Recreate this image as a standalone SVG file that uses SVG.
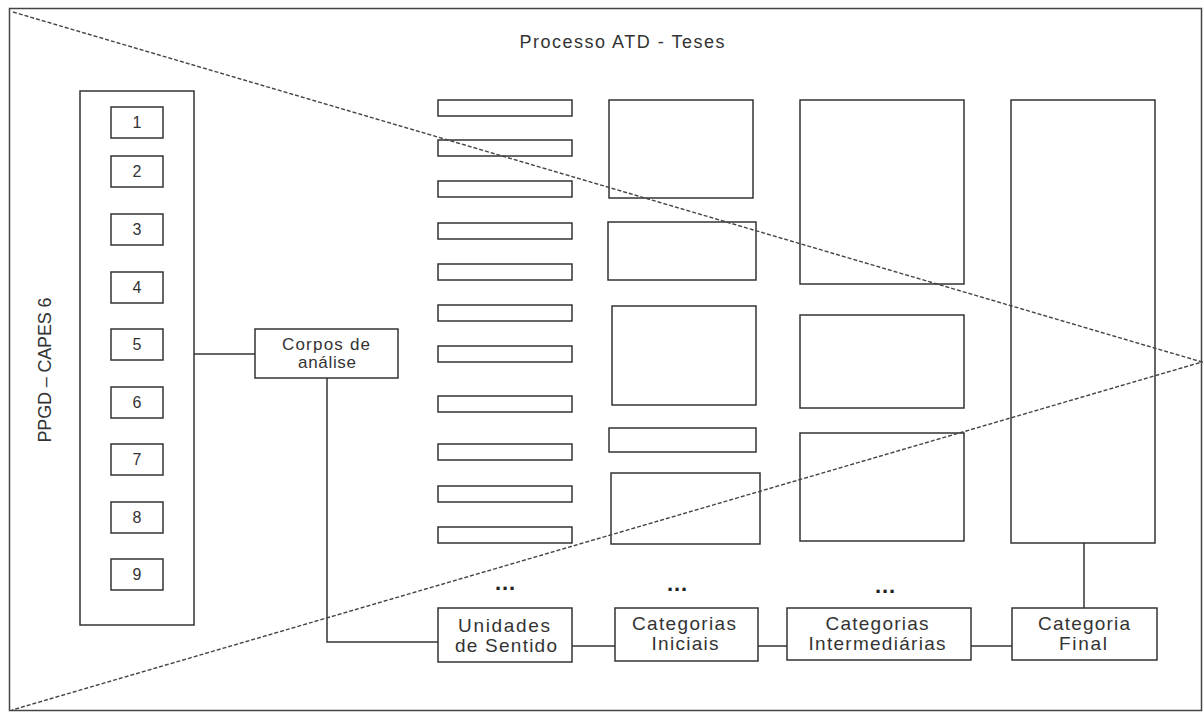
<svg xmlns="http://www.w3.org/2000/svg" width="1203" height="713" viewBox="0 0 1203 713">
<style>
.b{fill:#fff;stroke:#333;stroke-width:1.5}
.c{fill:none;stroke:#333;stroke-width:1.5}
.d{fill:none;stroke:#444;stroke-width:1.4;stroke-dasharray:4 2}
.t{font-family:"Liberation Sans",Arial,sans-serif;fill:#333;text-anchor:middle}
.n{font-size:16px}
.l{font-size:19px}
.e{font-size:22px;font-weight:bold;fill:#222}
</style>
<rect x="0" y="0" width="1203" height="713" fill="#fff"/>
<rect x="9.5" y="8.5" width="1192" height="702" fill="none" stroke="#444" stroke-width="1.5"/>
<g id="left-panel">
<rect class="b" x="80" y="91" width="114" height="534"/>
<text class="t" font-size="18" transform="translate(51,370) rotate(-90)" textLength="145">PPGD – CAPES 6</text>
</g>
<g id="n1"><rect class="b" x="111" y="107" width="52" height="31"/><text class="t n" x="137" y="128">1</text></g>
<g id="n2"><rect class="b" x="111" y="156" width="52" height="31"/><text class="t n" x="137" y="177">2</text></g>
<g id="n3"><rect class="b" x="111" y="214" width="52" height="31"/><text class="t n" x="137" y="235">3</text></g>
<g id="n4"><rect class="b" x="111" y="272" width="52" height="31"/><text class="t n" x="137" y="293">4</text></g>
<g id="n5"><rect class="b" x="111" y="329" width="52" height="31"/><text class="t n" x="137" y="350">5</text></g>
<g id="n6"><rect class="b" x="111" y="387" width="52" height="31"/><text class="t n" x="137" y="408">6</text></g>
<g id="n7"><rect class="b" x="111" y="444" width="52" height="31"/><text class="t n" x="137" y="465">7</text></g>
<g id="n8"><rect class="b" x="111" y="502" width="52" height="31"/><text class="t n" x="137" y="523">8</text></g>
<g id="n9"><rect class="b" x="111" y="559" width="52" height="31"/><text class="t n" x="137" y="580">9</text></g>
<g id="title"><text class="t" font-size="18" x="622" y="48" textLength="205">Processo ATD - Teses</text></g>
<g id="corpos">
<rect class="b" x="255" y="329" width="143" height="49"/>
<text class="t" font-size="17" x="326" y="350" textLength="88">Corpos de</text>
<text class="t" font-size="17" x="327" y="368" textLength="58">análise</text>
</g>
<g id="unidades-rects">
<rect class="b" x="438" y="100" width="134" height="16"/>
<rect class="b" x="438" y="140" width="134" height="16"/>
<rect class="b" x="438" y="181" width="134" height="16"/>
<rect class="b" x="438" y="223" width="134" height="16"/>
<rect class="b" x="438" y="264" width="134" height="16"/>
<rect class="b" x="438" y="305" width="134" height="16"/>
<rect class="b" x="438" y="346" width="134" height="16"/>
<rect class="b" x="438" y="396" width="134" height="16"/>
<rect class="b" x="438" y="444" width="134" height="16"/>
<rect class="b" x="438" y="486" width="134" height="16"/>
<rect class="b" x="438" y="527" width="134" height="16"/>
</g>
<g id="iniciais-rects">
<rect class="b" x="609" y="100" width="144" height="98"/>
<rect class="b" x="608" y="222" width="148" height="58"/>
<rect class="b" x="612" y="306" width="144" height="99"/>
<rect class="b" x="609" y="428" width="147" height="24"/>
<rect class="b" x="611" y="473" width="149" height="71"/>
</g>
<g id="intermediarias-rects">
<rect class="b" x="800" y="100" width="164" height="184"/>
<rect class="b" x="800" y="315" width="164" height="93"/>
<rect class="b" x="800" y="433" width="164" height="108"/>
</g>
<g id="final-rect">
<rect class="b" x="1011" y="100" width="144" height="443"/>
</g>
<g id="ellipses">
<text class="t e" x="505" y="590" textLength="20">...</text>
<text class="t e" x="677" y="591" textLength="20">...</text>
<text class="t e" x="885" y="593" textLength="20">...</text>
</g>
<g id="connectors">
<path class="c" d="M194 354H255"/>
<path class="c" d="M327 378V642H438"/>
<path class="c" d="M572 646H615"/>
<path class="c" d="M758 646H787"/>
<path class="c" d="M971 646H1012"/>
<path class="c" d="M1084 608V543"/>
</g>
<g id="unidades">
<rect class="b" x="438" y="608" width="134" height="54"/>
<text class="t l" x="504" y="632" textLength="92">Unidades</text>
<text class="t l" x="506" y="652" textLength="102">de Sentido</text>
</g>
<g id="cat-iniciais">
<rect class="b" x="615" y="608" width="143" height="53"/>
<text class="t l" x="684" y="630" textLength="104">Categorias</text>
<text class="t l" x="685" y="650" textLength="67">Iniciais</text>
</g>
<g id="cat-intermediarias">
<rect class="b" x="787" y="608" width="184" height="52"/>
<text class="t l" x="877" y="630" textLength="103">Categorias</text>
<text class="t l" x="877" y="650" textLength="137">Intermediárias</text>
</g>
<g id="cat-final">
<rect class="b" x="1012" y="608" width="145" height="52"/>
<text class="t l" x="1084" y="630" textLength="92">Categoria</text>
<text class="t l" x="1083" y="650" textLength="48">Final</text>
</g>
<g id="funnel">
<path class="d" d="M13 12L1202 362L12 710"/>
</g>
</svg>
